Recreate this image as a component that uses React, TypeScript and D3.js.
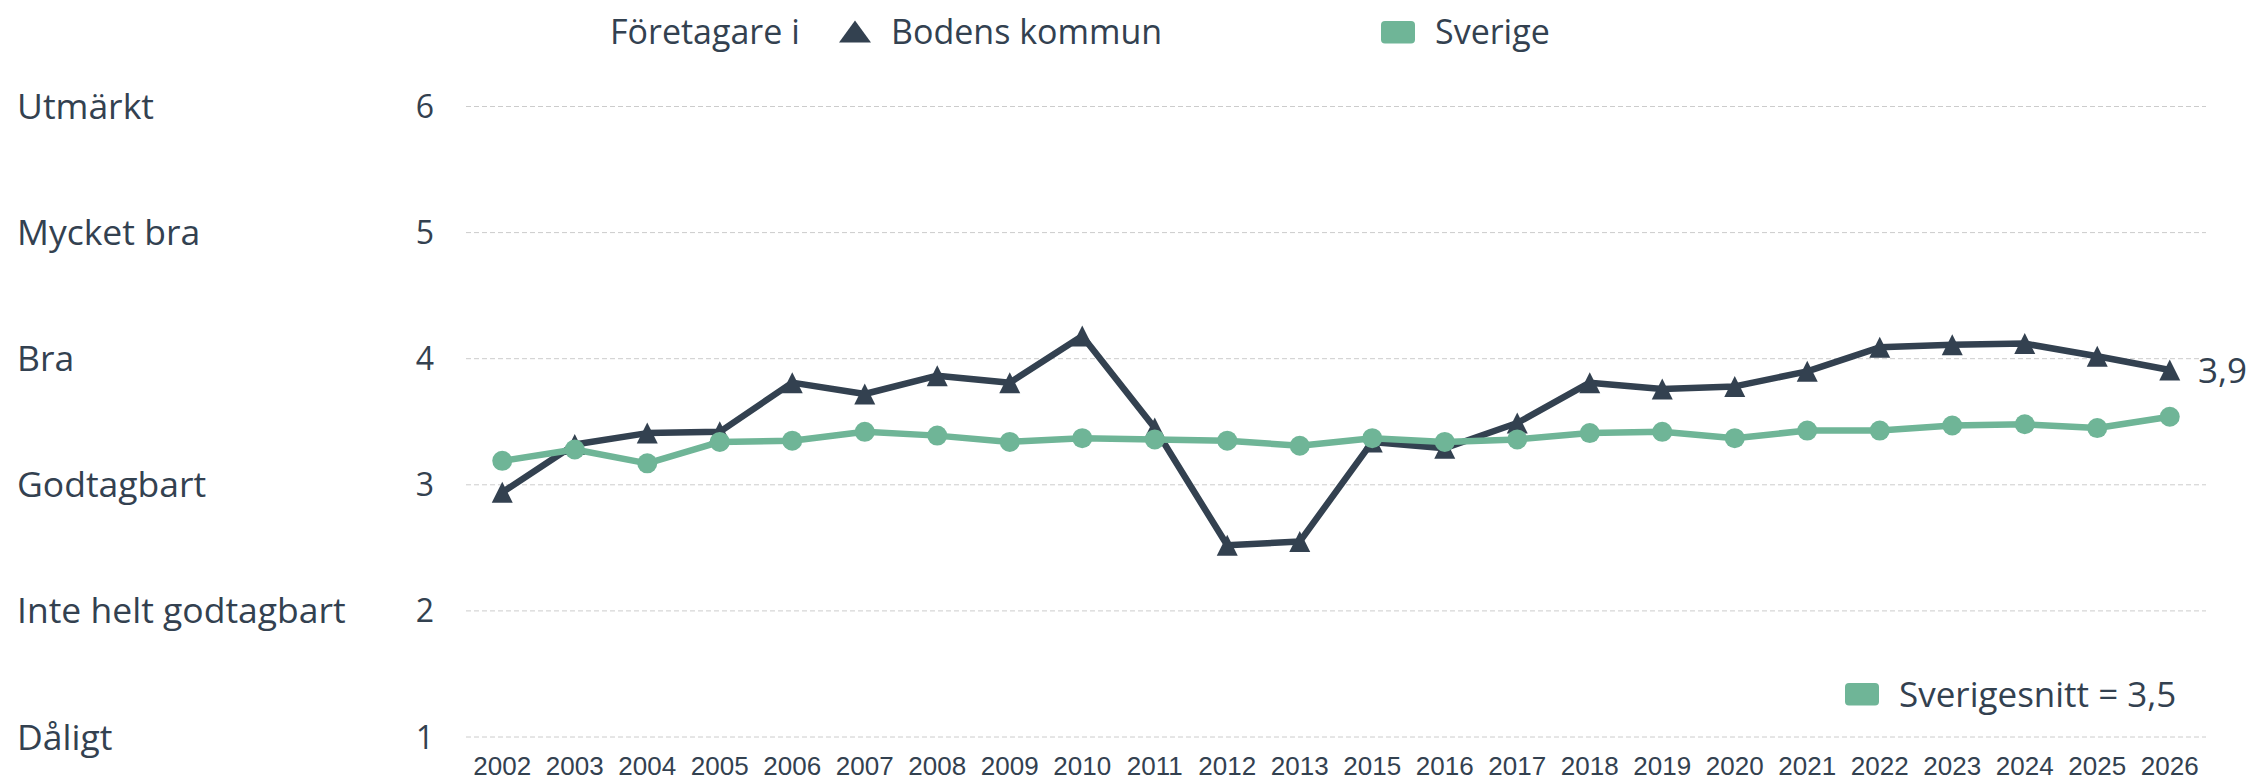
import React from 'react'
import * as d3 from 'd3'

const years = ['2002','2003','2004','2005','2006','2007','2008','2009','2010','2011','2012','2013',
  '2015','2016','2017','2018','2019','2020','2021','2022','2023','2024','2025','2026']
const bodenValues = [2.94,3.32,3.41,3.42,3.81,3.72,3.865,3.81,4.18,3.45,2.52,2.55,
  3.34,3.29,3.49,3.81,3.76,3.78,3.9,4.09,4.11,4.12,4.02,3.91]
const sverigeValues = [3.19,3.28,3.17,3.34,3.35,3.42,3.39,3.34,3.37,3.36,3.35,3.31,
  3.37,3.34,3.36,3.41,3.42,3.37,3.43,3.43,3.47,3.48,3.45,3.54]
const yTicks = [1,2,3,4,5,6]
const ratingLabels = ['Dåligt','Inte helt godtagbart','Godtagbart','Bra','Mycket bra','Utmärkt']
const legendTitle = 'Företagare i'
const seriesNames = ['Bodens kommun','Sverige']
const lastLabel = '3,9'
const averageLabel = 'Sverigesnitt = 3,5'

const W = 2260, H = 781
const DARK = '#334150'
const GREEN = '#6fb597'
const FONT = '"Open Sans", "Noto Sans", sans-serif'

export default function App() {
  const x = d3.scaleBand().domain(years).range([466, 2206]).padding(0)
  const y = d3.scaleLinear().domain([1, 6]).range([737, 106.5])
  const cx = (d: string) => (x(d) as number) + x.bandwidth() / 2

  const line = d3.line<number>()
    .x((_d, i) => cx(years[i]))
    .y(d => y(d))

  // upright triangle marker centred on the point
  const tri = (px: number, py: number, w: number, h: number) =>
    `M${px},${py - h / 2}L${px + w / 2},${py + h / 2}L${px - w / 2},${py + h / 2}Z`

  const lastIdx = years.length - 1

  return (
    <svg width={W} height={H} style={{ position: 'absolute', left: 0, top: 0, background: '#fff' }}>
      {/* gridlines */}
      {yTicks.map(t => (
        <line key={'g' + t} x1={466} x2={2206} y1={y(t)} y2={y(t)}
          stroke="#cccccc" strokeWidth={1} strokeDasharray="5,3" />
      ))}
      {/* rating labels */}
      {yTicks.map((t, i) => (
        <text key={'r' + t} x={17} y={y(t) + 12.5} fontFamily={FONT} fontSize={35.5} fill={DARK}>
          {ratingLabels[i]}
        </text>
      ))}
      {/* y tick numbers */}
      {yTicks.map(t => (
        <text key={'n' + t} x={434} y={y(t) + 11.5} textAnchor="end" fontFamily={FONT} fontSize={32} fill={DARK}>
          {t}
        </text>
      ))}
      {/* x labels */}
      {years.map(d => (
        <text key={'x' + d} x={cx(d)} y={775} textAnchor="middle"
          fontFamily='"Liberation Sans", Arial, sans-serif' fontSize={26} fill={DARK}>
          {d}
        </text>
      ))}

      {/* Bodens kommun */}
      <path d={line(bodenValues) || ''} fill="none" stroke={DARK} strokeWidth={6.5} strokeLinejoin="round" />
      {bodenValues.map((v, i) => (
        <path key={'t' + i} d={tri(cx(years[i]), y(v), 21, 21)} fill={DARK} />
      ))}

      {/* Sverige */}
      <path d={line(sverigeValues) || ''} fill="none" stroke={GREEN} strokeWidth={6.5} strokeLinejoin="round" />
      {sverigeValues.map((v, i) => (
        <circle key={'c' + i} cx={cx(years[i])} cy={y(v)} r={10} fill={GREEN} />
      ))}

      {/* end label */}
      <text x={2198} y={y(bodenValues[lastIdx]) + 13} fontFamily={FONT} fontSize={35} fill={DARK}>
        {lastLabel}
      </text>

      {/* legend top */}
      <text x={610} y={44} fontFamily={FONT} fontSize={34} fill={DARK}>{legendTitle}</text>
      <path d={tri(855, 31.5, 32, 22)} fill={DARK} />
      <text x={891} y={44} fontFamily={FONT} fontSize={34} fill={DARK}>{seriesNames[0]}</text>
      <rect x={1381} y={21} width={34} height={22.5} rx={4} fill={GREEN} />
      <text x={1435} y={44} fontFamily={FONT} fontSize={34} fill={DARK}>{seriesNames[1]}</text>

      {/* legend bottom */}
      <rect x={1845} y={683} width={34} height={22.5} rx={4} fill={GREEN} />
      <text x={1899} y={707} fontFamily={FONT} fontSize={35} fill={DARK}>{averageLabel}</text>
    </svg>
  )
}
